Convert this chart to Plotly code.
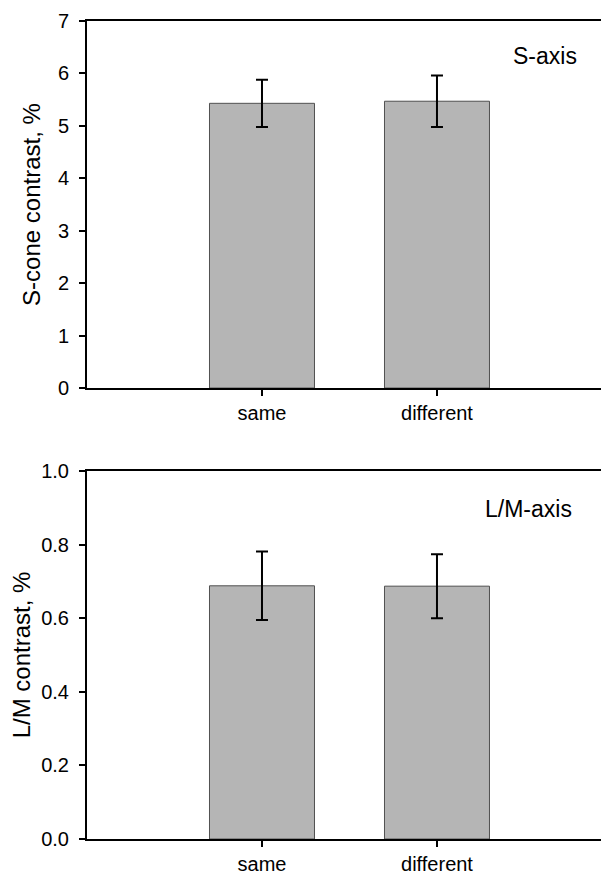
import plotly.graph_objects as go
from plotly.subplots import make_subplots

categories = ["same", "different"]
s_means = [5.43, 5.47]
s_errs = [0.45, 0.49]
lm_means = [0.688, 0.687]
lm_errs = [0.093, 0.087]
s_ticks = [0, 1, 2, 3, 4, 5, 6, 7]
lm_ticks = [0.0, 0.2, 0.4, 0.6, 0.8, 1.0]

FONT = "Arial, Liberation Sans, sans-serif"
BAR_FILL = "#b5b5b5"
BAR_LINE = "#505050"

fig = make_subplots(rows=2, cols=1, shared_xaxes=False)

for row, (means, errs) in enumerate([(s_means, s_errs), (lm_means, lm_errs)], start=1):
    fig.add_trace(go.Bar(
        x=[0, 1], y=means, width=0.6,
        marker=dict(color=BAR_FILL, line=dict(color=BAR_LINE, width=1)),
        error_y=dict(type="data", array=errs, visible=True, color="black", thickness=2, width=6),
        showlegend=False,
    ), row=row, col=1)

common_x = dict(
    tickmode="array", tickvals=[0, 1], ticktext=categories,
    range=[-1, 1.983], showline=True, linecolor="black", linewidth=2, mirror=True,
    ticks="outside", ticklen=6, tickwidth=2, tickcolor="black",
    showgrid=False, zeroline=False, tickfont=dict(family=FONT, size=20, color="black"),
)
fig.update_xaxes(**common_x)
fig.update_xaxes(domain=[0, 1])

common_y = dict(
    showline=True, linecolor="black", linewidth=2, mirror=False,
    ticks="outside", ticklen=6, tickwidth=2, tickcolor="black",
    showgrid=False, zeroline=False, tickfont=dict(family=FONT, size=20, color="black"),
    ticklabelstandoff=6,
)
fig.update_yaxes(**common_y)
fig.update_yaxes(row=1, col=1, range=[0, 7], tickvals=s_ticks, domain=[0.5513, 1.0],
                 title=dict(text="S-cone contrast, %", font=dict(family=FONT, size=24, color="black"), standoff=10))
fig.update_yaxes(row=2, col=1, range=[0, 1.0], tickvals=lm_ticks, tickformat=".1f", domain=[0.0, 0.4499],
                 title=dict(text="L/M contrast, %", font=dict(family=FONT, size=24, color="black"), standoff=10))

fig.add_annotation(text="S-axis", xref="paper", yref="paper", x=0.9425, y=0.957,
                   xanchor="right", yanchor="middle", showarrow=False,
                   font=dict(family=FONT, size=23, color="black"))
fig.add_annotation(text="L/M-axis", xref="paper", yref="paper", x=0.933, y=0.403,
                   xanchor="right", yanchor="middle", showarrow=False,
                   font=dict(family=FONT, size=23, color="black"))

# the page body adds an 8px margin; the figure is sized so it still fills 609x875
fig.update_layout(
    width=601, height=867,
    margin=dict(l=79, r=0, t=13, b=36),
    plot_bgcolor="white", paper_bgcolor="white",
    bargap=0.4,
)

fig.write_html("out.html")
